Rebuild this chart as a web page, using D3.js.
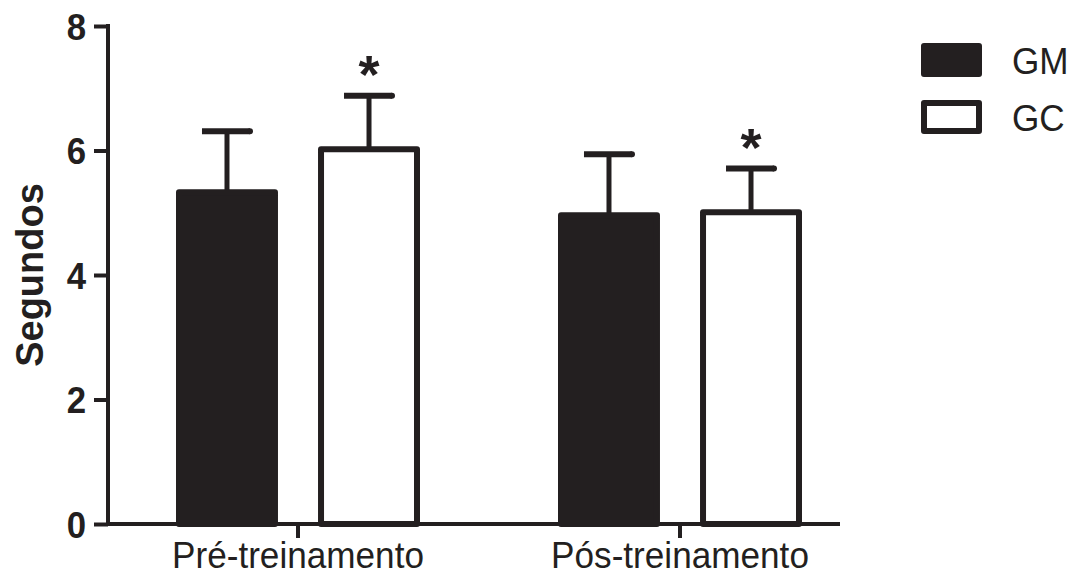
<!DOCTYPE html>
<html>
<head>
<meta charset="utf-8">
<script src="https://cdn.jsdelivr.net/npm/d3@7"></script>
<style>
  html, body { margin: 0; padding: 0; background: #fff; }
  svg { display: block; font-family: "Liberation Sans", Arial, sans-serif; }
</style>
</head>
<body>
<svg id="chart" width="1082" height="581"></svg>
<script>
// Data: mean time (seconds) with SD, per group and moment
const categories = ["Pré-treinamento", "Pós-treinamento"];
const groups = ["GM", "GC"];
const gmValues = [5.33, 4.96];
const gmErrors = [0.98, 0.98];
const gcValues = [6.02, 5.01];
const gcErrors = [0.86, 0.70];
const significant = [[false, true], [false, true]]; // [category][group]
const yTicks = [0, 2, 4, 6, 8];

const ink = "#231f20";
const svg = d3.select("#chart");

const y = d3.scaleLinear().domain([0, 8]).range([524, 26]);
const x0 = d3.scaleBand().domain(categories).range([107, 871]);
const x1 = d3.scaleBand().domain(groups).range([-122, 122]).paddingInner(0.282);

const rows = [];
categories.forEach((c, i) => {
  rows.push({ cat: c, group: "GM", v: gmValues[i], e: gmErrors[i], sig: significant[i][0] });
  rows.push({ cat: c, group: "GC", v: gcValues[i], e: gcErrors[i], sig: significant[i][1] });
});
const cx = d => x0(d.cat) + x0.bandwidth() / 2 + x1(d.group) + x1.bandwidth() / 2;

const sw = 6;

// Error bars (upper only)
const eb = svg.append("g");
eb.selectAll("line.stem").data(rows).join("line")
  .attr("x1", cx).attr("x2", cx)
  .attr("y1", d => y(d.v)).attr("y2", d => y(d.v + d.e))
  .attr("stroke", ink).attr("stroke-width", 5);
eb.selectAll("line.cap").data(rows).join("line")
  .attr("x1", d => cx(d) - 25).attr("x2", d => cx(d) + 23)
  .attr("y1", d => y(d.v + d.e)).attr("y2", d => y(d.v + d.e))
  .attr("stroke", ink).attr("stroke-width", 6).attr("stroke-linecap", "butt");
eb.selectAll("circle.capend").data(rows).join("circle")
  .attr("cx", d => cx(d) + 23).attr("cy", d => y(d.v + d.e)).attr("r", 3)
  .attr("fill", ink);

// Bars
svg.append("g").selectAll("rect").data(rows).join("rect")
  .attr("x", d => cx(d) - x1.bandwidth() / 2 + sw / 2)
  .attr("width", x1.bandwidth() - sw)
  .attr("y", d => y(d.v))
  .attr("height", d => y(0) - y(d.v))
  .attr("fill", d => d.group === "GM" ? ink : "#fff")
  .attr("stroke", ink).attr("stroke-width", sw).attr("stroke-linejoin", "round");

// Significance marks
svg.append("g").selectAll("text").data(rows.filter(d => d.sig)).join("text")
  .attr("x", cx).attr("y", d => y(d.v + d.e) - 3)
  .attr("text-anchor", "middle")
  .attr("font-size", 54).attr("font-weight", "bold").attr("fill", ink)
  .text("*");

// Y axis
const yAxis = svg.append("g").attr("transform", "translate(108,0)")
  .call(d3.axisLeft(y).tickValues(yTicks).tickFormat(d3.format("d")).tickSize(14).tickPadding(8));
yAxis.select(".domain").remove();
yAxis.selectAll(".tick line").attr("stroke", ink).attr("stroke-width", 4);
yAxis.selectAll(".tick text").attr("fill", ink).attr("font-size", 37).attr("font-weight", "bold")
  .attr("font-family", "'Liberation Sans', Arial, sans-serif").attr("dy", "0.36em")
  .attr("transform", "translate(-22,0) scale(0.94,1) translate(22,0)");
svg.append("line").attr("x1", 108).attr("x2", 108).attr("y1", y(8) - 2).attr("y2", y(0) + 2)
  .attr("stroke", ink).attr("stroke-width", 4);

// X axis
const xAxis = svg.append("g").attr("transform", `translate(0,${y(0)})`)
  .call(d3.axisBottom(x0).tickSize(14).tickPadding(4));
xAxis.select(".domain").remove();
xAxis.selectAll(".tick line").attr("stroke", ink).attr("stroke-width", 4);
xAxis.selectAll(".tick text").attr("fill", ink).attr("font-size", 37)
  .attr("font-family", "'Liberation Sans', Arial, sans-serif")
  .attr("transform", "scale(0.95,1)");
svg.append("line").attr("x1", 106).attr("x2", 840).attr("y1", y(0)).attr("y2", y(0))
  .attr("stroke", ink).attr("stroke-width", 4);

// Y axis title
svg.append("text")
  .attr("transform", `translate(43,${(y(0) + y(8)) / 2}) rotate(-90)`)
  .attr("text-anchor", "middle")
  .attr("font-size", 38).attr("font-weight", "bold").attr("fill", ink)
  .text("Segundos");

// Legend
const legend = svg.append("g").attr("transform", "translate(921,43)");
const li = legend.selectAll("g").data(groups).join("g")
  .attr("transform", (d, i) => `translate(0,${i * 57})`);
li.append("rect")
  .attr("x", 3).attr("y", 3).attr("width", 55).attr("height", 28)
  .attr("fill", d => d === "GM" ? ink : "#fff")
  .attr("stroke", ink).attr("stroke-width", 6).attr("stroke-linejoin", "round");
li.append("text")
  .attr("x", 91).attr("y", 31)
  .attr("font-size", 37).attr("fill", ink)
  .attr("transform", "translate(91,0) scale(0.95,1) translate(-91,0)")
  .text(d => d);
</script>
</body>
</html>
